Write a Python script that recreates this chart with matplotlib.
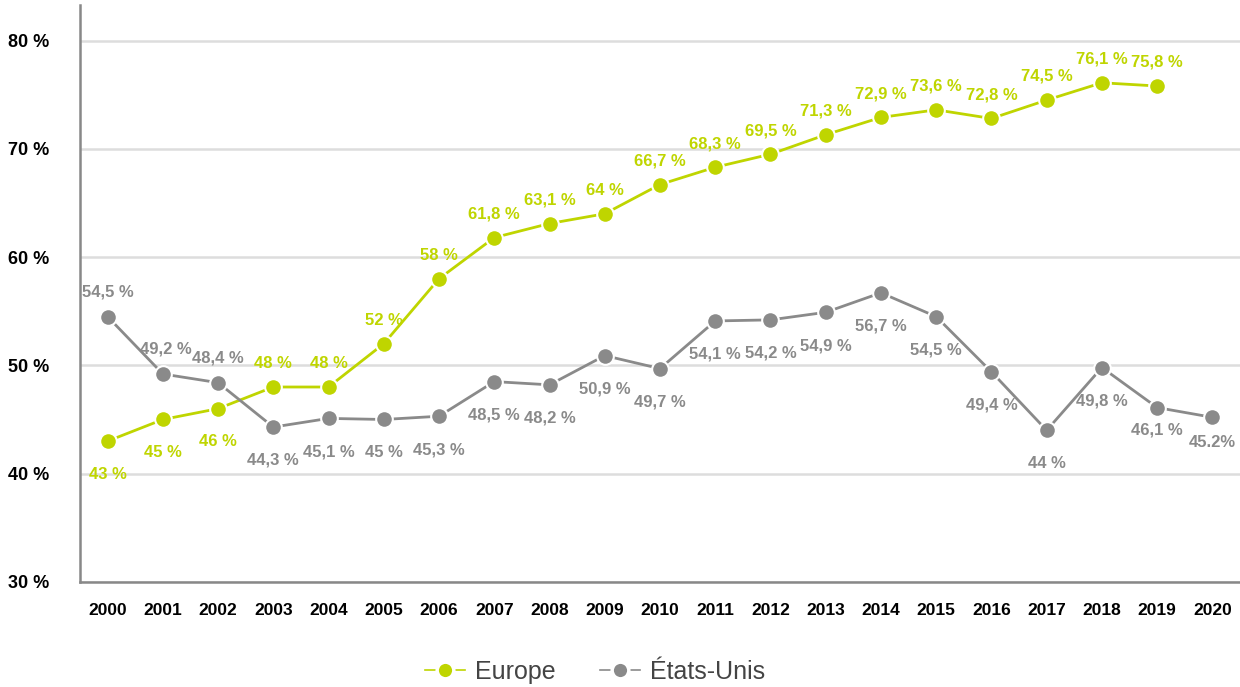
import numpy as np
import matplotlib.pyplot as plt
from matplotlib.lines import Line2D

years = [str(y) for y in range(2000, 2021)]
europe = [43, 45, 46, 48, 48, 52, 58, 61.8, 63.1, 64, 66.7, 68.3, 69.5,
          71.3, 72.9, 73.6, 72.8, 74.5, 76.1, 75.8]
usa = [54.5, 49.2, 48.4, 44.3, 45.1, 45, 45.3, 48.5, 48.2, 50.9, 49.7,
       54.1, 54.2, 54.9, 56.7, 54.5, 49.4, 44, 49.8, 46.1, 45.2]
# label placement: +1 above the point, -1 below
europe_side = [-1, -1, -1] + [1] * 17
usa_side = [1, 1, 1] + [-1] * 18

GREEN = '#bfd500'
GREY = '#8a8a8a'


def fmt(v):
    s = ('%.1f' % v).rstrip('0').rstrip('.')
    return s.replace('.', ',') + ' %'


plt.rcParams['font.family'] = ['Liberation Sans', 'DejaVu Sans']

fig = plt.figure(figsize=(12.4, 6.87), dpi=100)
ax = fig.add_axes([0.0645, 0.153, 0.9355, 0.84])

x_eu = np.arange(len(europe))
x_us = np.arange(len(usa))

ax.plot(x_eu, europe, color=GREEN, lw=2, marker='o', ms=12,
        mec='white', mew=1.5, zorder=3)
ax.plot(x_us, usa, color=GREY, lw=2, marker='o', ms=12,
        mec='white', mew=1.5, zorder=3)

for x, v, s in zip(x_eu, europe, europe_side):
    dy = 17 if s > 0 else -24
    ax.annotate(fmt(v), (x, v), xytext=(0, dy), textcoords='offset points',
                ha='center', va='center', color=GREEN, fontsize=12,
                fontweight='bold')

for x, v, s in zip(x_us, usa, usa_side):
    dy = 18 if s > 0 else -24
    dx = 0
    label = fmt(v)
    if x == 19:
        dy = -16
    if x == 20:
        label = '45.2%'
        dy = -18
    if x == 1:
        dx = 2
    ax.annotate(label, (x, v), xytext=(dx, dy), textcoords='offset points',
                ha='center', va='center', color=GREY, fontsize=12,
                fontweight='bold')

ax.set_xlim(-0.5, 20.5)
ax.set_ylim(30, 83.3)
ax.set_xticks(range(len(years)))
ax.set_xticklabels(years)
ax.set_yticks([30, 40, 50, 60, 70, 80])
ax.set_yticklabels(['%d %%' % t for t in [30, 40, 50, 60, 70, 80]])
ax.tick_params(length=0)
ax.tick_params(axis='x', labelsize=12.5, pad=15)
ax.tick_params(axis='y', labelsize=13, pad=52)
for lab in ax.get_xticklabels() + ax.get_yticklabels():
    lab.set_fontweight('bold')
    lab.set_color('black')
for lab in ax.get_yticklabels():
    lab.set_horizontalalignment('left')

ax.grid(axis='y', color='#dddddd', lw=1.8, zorder=0)
ax.set_axisbelow(True)
for side in ['top', 'right']:
    ax.spines[side].set_visible(False)
for side in ['left', 'bottom']:
    ax.spines[side].set_color('#888888')
    ax.spines[side].set_linewidth(1.8)

handles = [Line2D([], [], color=GREEN, lw=1.2, marker='o', ms=12,
                  mec='white', mew=2.5),
           Line2D([], [], color=GREY, lw=1.2, marker='o', ms=12,
                  mec='white', mew=2.5)]
fig.legend(handles, ['Europe', 'États-Unis'], loc='center',
           bbox_to_anchor=(0.48, 0.022), ncol=2, frameon=False,
           fontsize=18, handlelength=1.6, handletextpad=0.4,
           columnspacing=1.8, labelcolor='#444444')

fig.savefig('out.png', dpi=100)
